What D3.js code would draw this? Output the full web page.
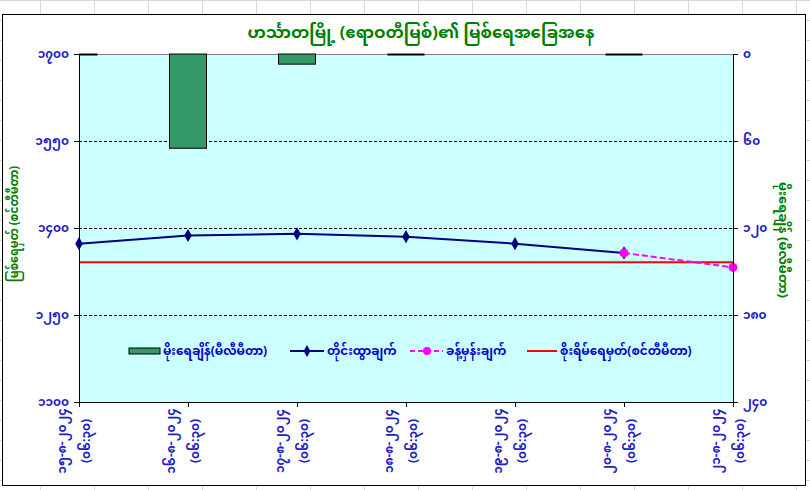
<!DOCTYPE html>
<html>
<head>
<meta charset="utf-8">
<script src="https://cdn.jsdelivr.net/npm/d3@7"></script>
<style>
  body { margin: 0; background: #fff; }
  svg { display: block; }
  text { font-family: 'Noto Sans Myanmar', 'Myanmar Text', Padauk, 'Noto Sans', sans-serif; }
</style>
</head>
<body>
<svg id="chart" width="810" height="490"></svg>
<script>
// data
var dates = ["၁၅-၈-၂၀၂၄", "၁၆-၈-၂၀၂၄", "၁၇-၈-၂၀၂၄", "၁၈-၈-၂၀၂၄", "၁၉-၈-၂၀၂၄", "၂၀-၈-၂၀၂၄", "၂၁-၈-၂၀၂၄"];
var times = ["(၀၆:၃၀)", "(၀၆:၃၀)", "(၀၆:၃၀)", "(၀၆:၃၀)", "(၀၆:၃၀)", "(၀၆:၃၀)", "(၀၆:၃၀)"];
var rainfall = [0, 65, 7, 0, null, 0, null];
var observed = [1373, 1387, 1390, 1385, 1373, 1357, null];
var forecast = [null, null, null, null, null, 1357, 1332];
var dangerLevel = 1341;
var levelTicks = [1100, 1250, 1400, 1550, 1700];
var levelTickLabels = ["၁၁၀၀", "၁၂၅၀", "၁၄၀၀", "၁၅၅၀", "၁၇၀၀"];
var rainTicks = [0, 60, 120, 180, 240];
var rainTickLabels = ["၀", "၆၀", "၁၂၀", "၁၈၀", "၂၄၀"];
var legendLabels = ["မိုးရေချိန်(မီလီမီတာ)", "တိုင်းထွာချက်", "ခန့်မှန်းချက်", "စိုးရိမ်ရေမှတ်(စင်တီမီတာ)"];

var svg = d3.select('#chart');
var W = 810, H = 490;
var pLeft = 79, pRight = 733, pTop = 54, pBottom = 402;
var blue = "#2222c4", green = "#008000";

// spreadsheet cells behind the chart
var sheet = svg.append('g').attr('stroke', '#d9d9d9').attr('stroke-width', 1);
d3.range(-14, W, 54).forEach(function(x) {
  sheet.append('line').attr('x1', x + 0.5).attr('x2', x + 0.5).attr('y1', 0).attr('y2', H);
});
d3.range(0, H, 20).forEach(function(y) {
  sheet.append('line').attr('x1', 0).attr('x2', W).attr('y1', y + 0.5).attr('y2', y + 0.5);
});

// chart box
svg.append('rect')
  .attr('x', 2.5).attr('y', 14.5).attr('width', 803).attr('height', 471)
  .attr('fill', '#fff').attr('stroke', '#000').attr('stroke-width', 1);

var x = d3.scalePoint().domain(d3.range(dates.length)).range([pLeft, pRight]).padding(0);
var yLevel = d3.scaleLinear().domain([1100, 1700]).range([pBottom, pTop]);
var yRain = d3.scaleLinear().domain([0, 240]).range([pTop, pBottom]);

svg.append('defs').append('clipPath').attr('id', 'plotclip')
  .append('rect').attr('x', pLeft).attr('y', pTop - 2).attr('width', pRight - pLeft).attr('height', pBottom - pTop + 2);

// plot area
svg.append('rect')
  .attr('x', pLeft).attr('y', pTop).attr('width', pRight - pLeft).attr('height', pBottom - pTop)
  .attr('fill', '#ccffff');

// grid lines
svg.append('g').selectAll('line')
  .data(levelTicks.slice(1, -1))
  .join('line')
  .attr('x1', pLeft).attr('x2', pRight)
  .attr('y1', function(d) { return Math.round(yLevel(d)) + 0.5; })
  .attr('y2', function(d) { return Math.round(yLevel(d)) + 0.5; })
  .attr('stroke', '#000').attr('stroke-width', 1).attr('stroke-dasharray', '3,2');
svg.append('line')
  .attr('x1', pLeft).attr('x2', pRight).attr('y1', pTop + 0.5).attr('y2', pTop + 0.5)
  .attr('stroke', '#808080');

// rainfall bars, hanging from the top
var barW = 37;
var bars = svg.append('g').attr('clip-path', 'url(#plotclip)');
rainfall.forEach(function(v, i) {
  if (v === null) return;
  if (v === 0) {
    bars.append('line')
      .attr('x1', x(i) - barW / 2).attr('x2', x(i) + barW / 2)
      .attr('y1', yRain(0) + 0.5).attr('y2', yRain(0) + 0.5)
      .attr('stroke', '#000').attr('stroke-width', 2);
  } else {
    bars.append('rect')
      .attr('x', x(i) - barW / 2).attr('y', yRain(0))
      .attr('width', barW).attr('height', yRain(v) - yRain(0))
      .attr('fill', '#339966').attr('stroke', '#000').attr('stroke-width', 1);
  }
});

// danger level
svg.append('line')
  .attr('x1', pLeft).attr('x2', pRight)
  .attr('y1', yLevel(dangerLevel)).attr('y2', yLevel(dangerLevel))
  .attr('stroke', '#ff0000').attr('stroke-width', 2);

// forecast
var lineGen = d3.line()
  .defined(function(d) { return d !== null; })
  .x(function(d, i) { return x(i); })
  .y(function(d) { return yLevel(d); });
svg.append('path').datum(forecast)
  .attr('d', lineGen).attr('fill', 'none')
  .attr('stroke', '#ff00ff').attr('stroke-width', 2).attr('stroke-dasharray', '6,3');

// observed
svg.append('path').datum(observed)
  .attr('d', lineGen).attr('fill', 'none')
  .attr('stroke', '#000080').attr('stroke-width', 2);
svg.append('g').selectAll('path')
  .data(observed.map(function(d, i) { return [d, i]; }).filter(function(p) { return p[0] !== null; }))
  .join('path')
  .attr('d', d3.symbol().type(d3.symbolDiamond).size(50))
  .attr('transform', function(p) { return 'translate(' + x(p[1]) + ',' + yLevel(p[0]) + ')'; })
  .attr('fill', '#000080');
svg.append('g').selectAll('circle')
  .data(forecast.map(function(d, i) { return [d, i]; }).filter(function(p) { return p[0] !== null; }))
  .join('circle')
  .attr('cx', function(p) { return x(p[1]); })
  .attr('cy', function(p) { return yLevel(p[0]); })
  .attr('r', 4.5)
  .attr('fill', '#ff00ff');

// axes
var axL = svg.append('g').attr('transform', 'translate(' + pLeft + ',0)')
  .call(d3.axisLeft(yLevel).tickValues(levelTicks).tickSize(5).tickPadding(5)
    .tickFormat(function(d, i) { return levelTickLabels[i]; }));
var axR = svg.append('g').attr('transform', 'translate(' + pRight + ',0)')
  .call(d3.axisRight(yRain).tickValues(rainTicks).tickSize(5).tickPadding(5)
    .tickFormat(function(d, i) { return rainTickLabels[i]; }));
var axB = svg.append('g').attr('transform', 'translate(0,' + pBottom + ')')
  .call(d3.axisBottom(x).tickSize(5).tickFormat(''));
[axL, axR, axB].forEach(function(a) {
  a.select('.domain').attr('stroke', '#000');
  a.selectAll('.tick line').attr('stroke', '#000');
  a.selectAll('text').attr('fill', blue).attr('font-size', 12).attr('font-weight', 'bold');
});

// category labels, turned upright
var cat = svg.append('g');
dates.forEach(function(d, i) {
  var g = cat.append('g').attr('transform', 'translate(' + (x(i) - 5) + ',441) rotate(-90)');
  g.append('text').attr('x', 0).attr('y', -8).attr('text-anchor', 'middle')
    .attr('fill', blue).attr('font-size', 12).attr('font-weight', 'bold').text(d);
  g.append('text').attr('x', 0).attr('y', 16).attr('text-anchor', 'middle')
    .attr('fill', blue).attr('font-size', 12).attr('font-weight', 'bold').text(times[i]);
});

// title and axis titles
svg.append('text').attr('x', 421).attr('y', 38).attr('text-anchor', 'middle')
  .attr('fill', green).attr('font-size', 16.5).attr('font-weight', 'bold')
  .text("ဟင်္သာတမြို့ (ဧရာဝတီမြစ်)၏ မြစ်ရေအခြေအနေ");
svg.append('text').attr('transform', 'translate(18,224) rotate(-90)').attr('text-anchor', 'middle')
  .attr('fill', green).attr('font-size', 13).attr('font-weight', 'bold')
  .attr('textLength', 116).attr('lengthAdjust', 'spacingAndGlyphs')
  .text("မြစ်ရေမှတ် (စင်တီမီတာ)");
svg.append('text').attr('transform', 'translate(779,240) rotate(90)').attr('text-anchor', 'middle')
  .attr('fill', green).attr('font-size', 13).attr('font-weight', 'bold')
  .attr('textLength', 116).attr('lengthAdjust', 'spacingAndGlyphs')
  .text("မိုးရေချိန် (မီလီမီတာ)");

// legend
var lg = svg.append('g').attr('font-size', 12);
lg.append('rect').attr('x', 129).attr('y', 348).attr('width', 31).attr('height', 6)
  .attr('fill', '#339966').attr('stroke', '#000');
lg.append('line').attr('x1', 290).attr('x2', 324).attr('y1', 351).attr('y2', 351)
  .attr('stroke', '#000080').attr('stroke-width', 2);
lg.append('path').attr('d', d3.symbol().type(d3.symbolDiamond).size(40))
  .attr('transform', 'translate(307,351)').attr('fill', '#000080');
lg.append('line').attr('x1', 410).attr('x2', 443).attr('y1', 351).attr('y2', 351)
  .attr('stroke', '#ff00ff').attr('stroke-width', 2).attr('stroke-dasharray', '5,3');
lg.append('circle').attr('cx', 427).attr('cy', 351).attr('r', 4).attr('fill', '#ff00ff');
lg.append('line').attr('x1', 527).attr('x2', 557).attr('y1', 351).attr('y2', 351)
  .attr('stroke', '#ff0000').attr('stroke-width', 2);
var legendX = [163, 327, 446, 560];
legendLabels.forEach(function(t, i) {
  lg.append('text').attr('x', legendX[i]).attr('y', 355)
    .attr('fill', '#0000cc').attr('font-weight', 'bold').text(t);
});
</script>
</body>
</html>
